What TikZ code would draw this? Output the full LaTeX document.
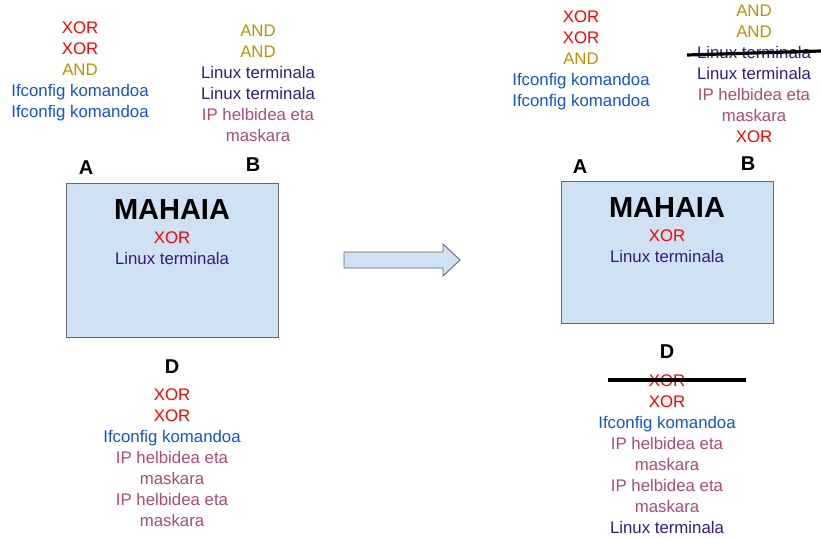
\documentclass[tikz,border=0pt]{standalone}
\usepackage{fontspec}
\setmainfont{Liberation Sans}
\definecolor{xorred}{HTML}{FF0000}
\definecolor{andgold}{HTML}{BF9000}
\definecolor{ifblue}{HTML}{1155CC}
\definecolor{linuxpurple}{HTML}{351C75}
\definecolor{ipmagenta}{HTML}{A64D79}
\definecolor{tablefill}{HTML}{CFE2F3}
\definecolor{tableedge}{HTML}{666666}
\newcommand{\cXor}{\textcolor{xorred}{XOR}}
\newcommand{\cAnd}{\textcolor{andgold}{AND}}
\newcommand{\cIf}{\textcolor{ifblue}{Ifconfig komandoa}}
\newcommand{\cLin}{\textcolor{linuxpurple}{Linux terminala}}
\newcommand{\cIp}{\textcolor{ipmagenta}{IP helbidea eta}\\\textcolor{ipmagenta}{maskara}}
\begin{document}
\begin{tikzpicture}[x=1pt,y=-1pt,
  itemlist/.style={anchor=north,align=center,inner sep=0pt,
    font=\fontsize{16.8}{20.9}\selectfont},
  seat/.style={font=\fontsize{20}{24}\selectfont\bfseries,inner sep=0pt},
  tabletitle/.style={font=\fontsize{29}{34}\selectfont\bfseries,inner sep=0pt},
  tablebox/.style={fill=tablefill,draw=tableedge,line width=1pt},
  strike/.style={line width=3.2pt,black}]
\useasboundingbox (0,0) rectangle (821,538);

% ---------- before ----------
\node[itemlist] (la) at (80,22) {\cXor\\\cXor\\\cAnd\\\cIf\\\cIf};
\node[itemlist] (lb) at (258,25) {\cAnd\\\cAnd\\\cLin\\\cLin\\\cIp};
\node[seat] (lA) at (86,168) {A};
\node[seat] (lB) at (253,165) {B};
\draw[tablebox] (66,183) rectangle (278,337);
\node[tabletitle] (lt) at (172,210) {MAHAIA};
\node[itemlist] (lm) at (172,232) {\cXor\\\cLin};
\node[seat] (lD) at (172,367) {D};
\node[itemlist] (ld) at (172,389) {\cXor\\\cXor\\\cIf\\\cIp\\\cIp};

% ---------- transition arrow ----------
\draw[fill=tablefill,draw=tableedge,line width=0.9pt,line join=miter]
  (344,252) -- (443,252) -- (443,244) -- (460,260) -- (443,276)
  -- (443,268) -- (344,268) -- cycle;

% ---------- after ----------
\node[itemlist] (ra) at (581,11) {\cXor\\\cXor\\\cAnd\\\cIf\\\cIf};
\node[itemlist] (rb) at (754,5) {\cAnd\\\cAnd\\\textcolor{linuxpurple}{Linux terminala}\\\cLin\\\cIp\\\cXor};
\node[seat] (rA) at (580,167) {A};
\node[seat] (rB) at (748,164) {B};
\draw[tablebox] (561,181) rectangle (773,323);
\node[tabletitle] (rt) at (667,208) {MAHAIA};
\node[itemlist] (rm) at (667,230) {\cXor\\\cLin};
\node[seat] (rD) at (667,352) {D};
\node[itemlist] (rd) at (667,375) {\cXor\\\cXor\\\cIf\\\cIp\\\cIp\\\cLin};

% crossed-out entries
\coordinate (sb1) at (687,55);
\coordinate (sb2) at (821,51);
\coordinate (sd1) at (608,380);
\coordinate (sd2) at (746,380);
\draw[strike] (sb1) -- (sb2);
\draw[strike] (sd1) -- (sd2);
\end{tikzpicture}
\end{document}
